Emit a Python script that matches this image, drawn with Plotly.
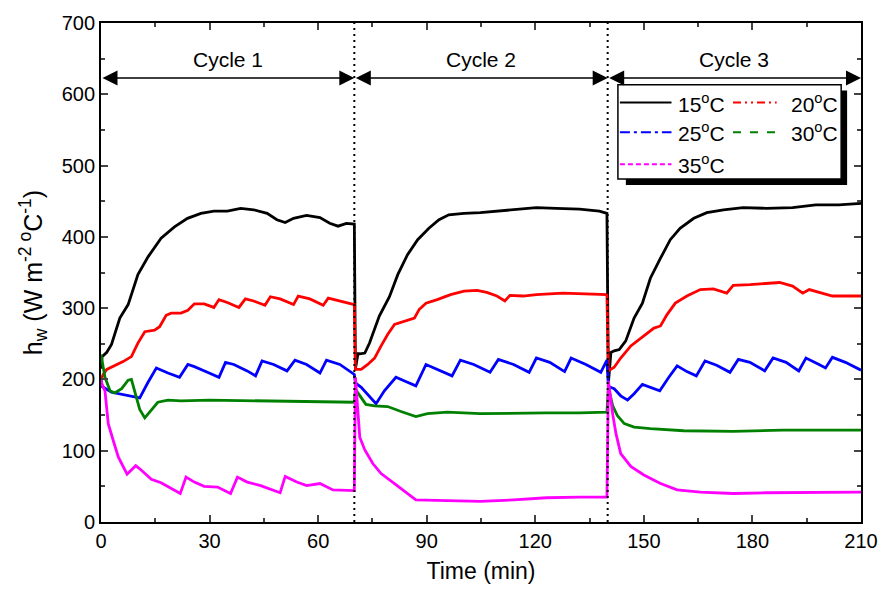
import plotly.graph_objects as go

# ---------------- data ----------------
t15 = [0, 0.3, 1.6, 2.9, 5.2, 7.5, 10.2, 13, 16.6, 20.3, 23.9, 27.6, 31.2, 34.9, 38.6, 42.2, 45.9, 48.6,
       50.9, 53.2, 56.8, 60.5, 63.2, 65.5, 67.8, 70.0, 70.3, 71.0, 71.5, 72.9, 74.2, 76.9, 79.7, 82, 84.7,
       87.5, 90.6, 93.4, 96.1, 100.3, 104.8, 109.4, 114, 120.3, 125.8, 132.2, 137.7, 139.8, 140.2, 140.9,
       141.8, 143.2, 145, 147.3, 149.6, 151.8, 154.6, 157.3, 160, 163.8, 167.4, 172, 177.4, 183.8, 191.1,
       197.5, 203.9, 210]
h15 = [215, 232, 238, 249, 286, 305, 347, 372, 398, 414, 426, 433, 436, 436, 440, 438, 433, 424,
       420, 426, 430, 427, 419, 415, 419, 418, 215, 236, 236, 237, 251, 289, 316, 347, 375,
       396, 412, 424, 431, 433, 434, 436, 438, 441, 440, 439, 436, 433, 195, 238,
       240, 242, 254, 286, 307, 342, 370, 396, 412, 426, 434, 438, 441, 440, 441,
       445, 445, 447]

t20 = [0, 0.6, 1.6, 3.8, 6.1, 8.4, 10.2, 12.1, 14.8, 16.2, 18, 19.4, 22.1, 24, 25.8, 28.5, 31.2, 32.6,
       34.9, 38.1, 39.9, 42.2, 45.3, 46.8, 49.5, 53.2, 54.5, 57.7, 61.4, 62.8, 66, 69.6, 70.0, 70.3, 71.9,
       73.7, 75.6, 77.4, 79.2, 81.1, 83.8, 86.6, 87.9, 89.8, 92.9, 96.6, 100.3, 103.9, 106.6, 109.4, 111.6,
       113, 116.6, 120.3, 127.6, 134, 139.8, 140.2, 141.8, 143.6, 146.4, 150, 152.8, 154.6, 156.4, 158.7,
       161.9, 165.6, 169.2, 172.9, 174.7, 179.3, 183.8, 187.5, 191.1, 193.9, 195.7, 198.4, 202.1, 210]
h20 = [200, 207, 214, 219, 225, 232, 251, 267, 269, 274, 290, 293, 293, 297, 306, 306, 301, 312,
       308, 301, 313, 310, 304, 316, 313, 305, 317, 313, 304, 314, 310, 305, 305, 214, 214,
       221, 230, 247, 263, 277, 281, 286, 298, 307, 312, 319, 324, 325, 322, 317, 310,
       318, 317, 319, 321, 320, 319, 212, 217, 230, 247, 261, 272, 275, 291, 307,
       317, 326, 327, 321, 332, 333, 335, 336, 331, 321, 326, 322, 317, 317]

t25 = [0, 0.3, 2.9, 5.7, 8.4, 10.7, 13, 15.3, 18.5, 21.7, 24, 25.8, 29.4, 32.6, 34.4, 36.7, 40.4, 42.7,
       44.5, 47.7, 51.4, 53.6, 56.8, 60.5, 62.3, 66, 70.0, 70.3, 71.9, 73.7, 76, 78.3, 81.5, 84.2, 87,
       89.8, 92.9, 97, 99.3, 103, 107.5, 109.8, 114, 118.3, 120.3, 124, 128.1, 129.9, 134, 138.1, 139.8,
       140.2, 141.8, 143.6, 145.5, 147.3, 149.6, 151.8, 154.4, 156.9, 159.2, 161.9, 164.5, 166.9, 170.1,
       173.8, 176.1, 179.3, 183.4, 185.7, 189.3, 192.8, 194.8, 198.4, 200.2, 202.1, 205.7, 210]
h25 = [200, 190, 182, 179, 176, 174, 196, 216, 209, 203, 221, 218, 210, 203, 224, 221, 212, 205,
       226, 221, 212, 227, 221, 209, 227, 221, 207, 195, 189, 179, 166, 184, 203, 197, 191,
       221, 214, 205, 227, 221, 210, 228, 221, 210, 230, 224, 211, 230, 221, 210, 227,
       190, 187, 177, 171, 180, 193, 189, 184, 203, 219, 211, 205, 226, 220,
       210, 228, 224, 212, 230, 224, 212, 230, 221, 216, 231, 224, 213]

t30 = [0, 0.3, 1.1, 2.5, 3.8, 5.7, 7.5, 8.4, 9.3, 10.7, 12.1, 13.4, 15.7, 18.5, 22.1, 30, 40, 50, 60,
       70.0, 70.3, 71.9, 73.2, 75.6, 79.2, 82.9, 87, 90.2, 95.7, 104.8, 114, 123.1, 132.2, 139.8, 140.2,
       141.4, 142.7, 144.6, 147.3, 151.8, 161, 174.7, 188.4, 202.1, 210]
h30 = [235, 225, 203, 184, 181, 187, 199, 200, 184, 158, 146, 154, 168, 171, 170, 171, 170, 170, 169,
       168, 186, 174, 165, 163, 162, 155, 148, 152, 154, 152, 153, 153, 153, 154, 189,
       163, 149, 138, 133, 131, 128, 127, 129, 129, 129]

t35 = [0, 0.3, 1.1, 2.0, 3.4, 4.8, 7.2, 9.6, 11.1, 13.9, 16.6, 19.4, 21.9, 23.5, 25.8, 28.5, 32.2, 35.8,
       37.7, 40.4, 44.1, 49.5, 50.9, 54.1, 56.8, 60.5, 64.1, 70.0, 70.3, 71.5, 72.9, 75.1, 77.4, 81.1,
       84.2, 87, 95.7, 104.8, 114, 123.1, 132.2, 139.8, 140.2, 141.4, 142.3, 143.6, 146.4, 150, 154.6,
       159.2, 165.6, 174.7, 183.8, 192.8, 202.1, 210]
h35 = [200, 193, 184, 138, 114, 91, 67, 79, 73, 60, 55, 47, 40, 63, 56, 50, 49, 40,
       63, 56, 51, 41, 64, 56, 51, 54, 45, 44, 203, 119, 101, 82, 68, 54,
       42, 31, 30, 29, 31, 34, 35, 35, 198, 151, 124, 96, 78, 66, 54,
       45, 42, 40, 41, 41, 41, 42]

series_names = ["15<sup>o</sup>C", "20<sup>o</sup>C", "25<sup>o</sup>C", "30<sup>o</sup>C", "35<sup>o</sup>C"]
series_t = [t15, t20, t25, t30, t35]
series_h = [h15, h20, h25, h30, h35]
series_colors = ["#000000", "#ff0000", "#0000ff", "#008000", "#ff00ff"]
legend_dash = ["solid", "8px,4px,2px,4px,2px,4px", "10px,4px,3px,4px", "8px,9px", "5px,3px"]

cycle_labels = ["Cycle 1", "Cycle 2", "Cycle 3"]
cycle_bounds = [(0, 70), (70, 140), (140, 210)]
x_ticks = [0, 30, 60, 90, 120, 150, 180, 210]
y_ticks = [0, 100, 200, 300, 400, 500, 600, 700]

FONT = "Arial, Liberation Sans, Helvetica, sans-serif"

fig = go.Figure()
for name, tt, hh, col in zip(series_names, series_t, series_h, series_colors):
    fig.add_trace(go.Scatter(x=tt, y=hh, mode="lines", name=name,
                             line=dict(color=col, width=2.8), showlegend=False))

W, H = 890, 593
L, R, T, B = 101, 23, 20, 71
pw, ph = W - L - R, H - T - B


def px2paper(px, py):
    return (px - L) / pw, (H - B - py) / ph


shapes = []
# dotted cycle separators
for xb in [70, 140]:
    shapes.append(dict(type="line", xref="x", yref="paper", x0=xb, x1=xb, y0=0, y1=1,
                       line=dict(color="black", width=2, dash="2px,4px")))

# legend box with shadow
sx0, sy0 = px2paper(630, 88)
sx1, sy1 = px2paper(853, 183)
shapes.append(dict(type="rect", xref="paper", yref="paper", x0=sx0, y0=sy1, x1=sx1, y1=sy0,
                   fillcolor="black", line=dict(width=0)))
bx0, by0 = px2paper(622, 82)
bx1, by1 = px2paper(847, 177)
shapes.append(dict(type="rect", xref="paper", yref="paper", x0=bx0, y0=by1, x1=bx1, y1=by0,
                   fillcolor="white", line=dict(color="black", width=1.5)))

annotations = []
legend_pos = [(624, 676, 681, 100), (738, 782, 794, 100), (624, 676, 681, 130),
              (738, 782, 794, 130), (624, 676, 681, 162)]
for (lx0, lx1, tx, ly), name, col, dsh in zip(legend_pos, series_names, series_colors, legend_dash):
    a0, yy = px2paper(lx0, ly)
    a1, _ = px2paper(lx1, ly)
    shapes.append(dict(type="line", xref="paper", yref="paper", x0=a0, x1=a1, y0=yy, y1=yy,
                       line=dict(color=col, width=2, dash=dsh)))
    xt, _ = px2paper(tx, ly)
    annotations.append(dict(xref="paper", yref="paper", x=xt, y=yy, text=name, showarrow=False,
                            xanchor="left", yanchor="middle", font=dict(size=21, color="black", family=FONT)))

# cycle arrows and labels
for lab, (a, b) in zip(cycle_labels, cycle_bounds):
    annotations.append(dict(x=b, y=623, ax=a, ay=623, xref="x", yref="y", axref="x", ayref="y",
                            text="", showarrow=True, arrowside="end+start", arrowhead=2,
                            arrowsize=2.0, arrowwidth=1.5, arrowcolor="black",
                            standoff=0, startstandoff=0))
    annotations.append(dict(x=(a + b) / 2, y=649, xref="x", yref="y", text=lab, showarrow=False,
                            xanchor="center", yanchor="middle",
                            font=dict(size=21, color="black", family=FONT)))

fig.update_layout(
    width=W, height=H,
    margin=dict(l=L, r=R, t=T, b=B),
    paper_bgcolor="white", plot_bgcolor="white",
    font=dict(family=FONT, size=20, color="black"),
    shapes=shapes, annotations=annotations,
    showlegend=False,
)
fig.update_xaxes(range=[0, 210], tickvals=x_ticks, ticks="inside", ticklen=7, tickwidth=1.5,
                 minor=dict(dtick=15, ticks="inside", ticklen=4, tickwidth=1.5),
                 showline=True, linewidth=1.8, linecolor="black", mirror="allticks",
                 showgrid=False, zeroline=False,
                 title=dict(text="Time (min)", font=dict(size=23), standoff=12),
                 tickfont=dict(size=20))
fig.update_yaxes(range=[0, 700], tickvals=y_ticks, ticks="inside", ticklen=7, tickwidth=1.5,
                 minor=dict(dtick=50, ticks="inside", ticklen=4, tickwidth=1.5),
                 showline=True, linewidth=1.8, linecolor="black", mirror="allticks",
                 showgrid=False, zeroline=False,
                 title=dict(text="h<sub>w</sub> (W m<sup>-2 o</sup>C<sup>-1</sup>)", font=dict(size=25), standoff=12),
                 tickfont=dict(size=20))

fig.write_html("out.html")
